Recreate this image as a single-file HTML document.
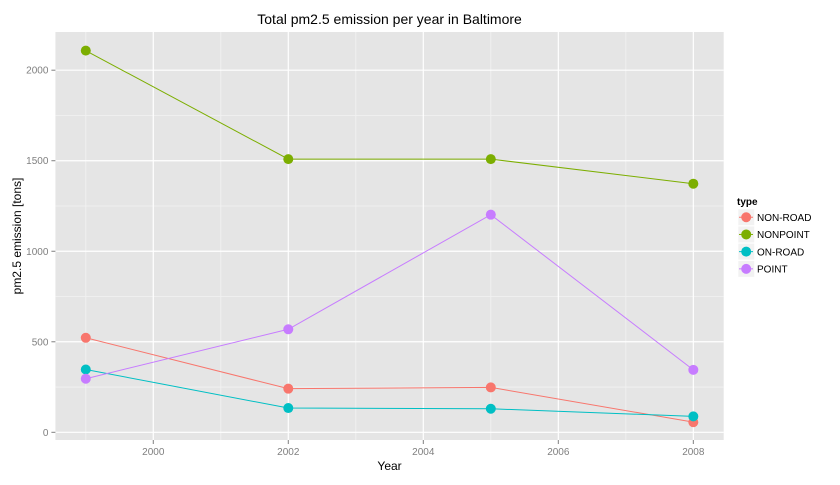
<!DOCTYPE html>
<html><head><meta charset="utf-8"><style>
body{margin:0;background:#fff;font-family:"Liberation Sans",sans-serif}
</style></head><body>
<svg width="840" height="480" xmlns="http://www.w3.org/2000/svg" id="chart" font-family="Liberation Sans, sans-serif"></svg>
<script>
const years=[1999,2002,2005,2008];
const seriesNames=["NON-ROAD","NONPOINT","ON-ROAD","POINT"];
const nonRoad=[522,241,248,56];
const nonPoint=[2108,1509,1509,1373];
const onRoad=[347,134,130,88];
const point=[296,569,1202,345];
const xTicks=[2000,2002,2004,2006,2008];
const yTicks=[0,500,1000,1500,2000];
const colors=["#F8766D","#7CAE00","#00BFC4","#C77CFF"];
const allSeries=[nonRoad,nonPoint,onRoad,point];

const svg=document.getElementById('chart');
const NS="http://www.w3.org/2000/svg";
const L=55.4,R=723.7,T=32,B=440;
const xMin=1999-0.45,xMax=2008.45;
const yMin=-42.5,yMax=2211;
const xs=v=>L+(v-xMin)/(xMax-xMin)*(R-L);
const ys=v=>B-(v-yMin)/(yMax-yMin)*(B-T);
function el(tag,attrs,text){const e=document.createElementNS(NS,tag);for(const k in attrs)e.setAttribute(k,attrs[k]);if(text!=null)e.textContent=text;svg.appendChild(e);return e;}

let e=el('rect',{x:L,y:T,width:R-L,height:B-T,fill:'#E5E5E5'});

// minor grid
for(let i=0;i<xTicks.length+1;i++){const v=xTicks[0]-1+2*i;if(v<xMin||v>xMax)continue;
 e=el('line',{x1:xs(v),x2:xs(v),y1:T,y2:B,stroke:'#F2F2F2','stroke-width':0.8});
 }
for(let i=0;i<yTicks.length;i++){const v=yTicks[i]+250;if(v>yMax)continue;
 e=el('line',{x1:L,x2:R,y1:ys(v),y2:ys(v),stroke:'#F2F2F2','stroke-width':0.8});
 }
xTicks.forEach(v=>{
 e=el('line',{x1:xs(v),x2:xs(v),y1:T,y2:B,stroke:'#fff','stroke-width':1.2});
 
 e=el('line',{x1:xs(v),x2:xs(v),y1:B,y2:B+4,stroke:'#7F7F7F','stroke-width':1});
 
 e=el('text',{x:xs(v),y:B+15,'text-anchor':'middle','font-size':10,fill:'#7F7F7F'},v);
 
});
yTicks.forEach(v=>{
 e=el('line',{x1:L,x2:R,y1:ys(v),y2:ys(v),stroke:'#fff','stroke-width':1.2});
 
 e=el('line',{x1:L-4,x2:L,y1:ys(v),y2:ys(v),stroke:'#7F7F7F','stroke-width':1});
 
 e=el('text',{x:L-7,y:ys(v)+3.5,'text-anchor':'end','font-size':10,fill:'#7F7F7F'},v);
 
});
allSeries.forEach((s,i)=>{
 const pts=s.map((v,j)=>xs(years[j])+','+ys(v)).join(' ');
 e=el('polyline',{points:pts,fill:'none',stroke:colors[i],'stroke-width':1});
 
 s.forEach((v,j)=>{
  e=el('circle',{cx:xs(years[j]),cy:ys(v),r:5,fill:colors[i]});
  
 });
});
e=el('text',{x:(L+R)/2,y:24,'text-anchor':'middle','font-size':14,fill:'#000'},'Total pm2.5 emission per year in Baltimore');

e=el('text',{x:(L+R)/2,y:470,'text-anchor':'middle','font-size':12,fill:'#000'},'Year');

e=el('text',{x:0,y:0,'text-anchor':'middle','font-size':12,fill:'#000',transform:'translate(21,'+((T+B)/2)+') rotate(-90)'},'pm2.5 emission [tons]');

e=el('text',{x:737,y:205,'font-size':10,'font-weight':'bold',fill:'#000'},'type');

seriesNames.forEach((n,i)=>{
 const y0=209+i*17.2;
 e=el('rect',{x:738,y:y0,width:16.5,height:16.5,fill:'#F2F2F2',stroke:'#fff','stroke-width':0.5});
 
 e=el('line',{x1:739,x2:753,y1:y0+8.25,y2:y0+8.25,stroke:colors[i],'stroke-width':1});
 
 e=el('circle',{cx:746.2,cy:y0+8.25,r:5,fill:colors[i]});
 
 e=el('text',{x:757,y:y0+12,'font-size':10,fill:'#000'},n);
 
});
</script>
</body></html>
